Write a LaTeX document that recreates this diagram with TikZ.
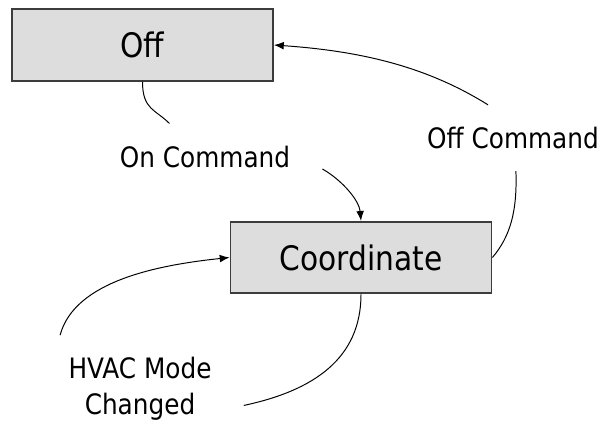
\documentclass[tikz,border=0pt]{standalone}
\usepackage{xcolor}
\usepackage{fontspec}
\setmainfont{DejaVu Sans}[FakeStretch=0.88]
\usetikzlibrary{arrows.meta}

\definecolor{boxgray}{HTML}{DDDDDD}
\definecolor{edgegray}{HTML}{3C3C3C}

\begin{document}
\begin{tikzpicture}[
  state/.style={draw=edgegray, line width=1.2pt, fill=boxgray, minimum width=6.53cm, minimum height=1.79cm, inner sep=0pt, font=\fontsize{24}{28}\selectfont},
  event/.style={inner xsep=0.8cm, inner ysep=0.55cm, align=center, font=\fontsize{20}{25.6}\selectfont},
  trans/.style={line width=0.7pt, black},
  >={Latex[length=7pt,width=5.5pt]}
]
\useasboundingbox (0,0) rectangle (15.075,-10.525);
\node[state] (off) at (3.5625,-1.125) {Off};
\node[state] (coord) at (9.025,-6.4375) {Coordinate};
\node[event] (oncmd) at (5.125,-3.915) {On Command};
\node[event] (offcmd) at (12.825,-3.45) {Off Command};
\node[event] (hvac) at (3.5,-9.725) {HVAC Mode\\Changed};

\draw[trans] (off.south) .. controls +(0,-0.7) and +(135:0.5) .. (oncmd.137);
\draw[trans,->] (oncmd.-6) .. controls +(-30:0.6) and +(95:0.5) .. (coord.north);
\draw[trans] (coord.east) .. controls +(50:0.7) and +(-88:1.0) .. (offcmd.-85);
\draw[trans,->] (offcmd.127) .. controls +(148:1.8) and +(-4:2.2) .. (off.east);
\draw[trans] (coord.south) .. controls +(-90:1.6) and +(12:1.8) .. (hvac.-9);
\draw[trans,->] (hvac.146) .. controls +(75:1.4) and +(186:1.8) .. (coord.west);
\end{tikzpicture}
\end{document}
